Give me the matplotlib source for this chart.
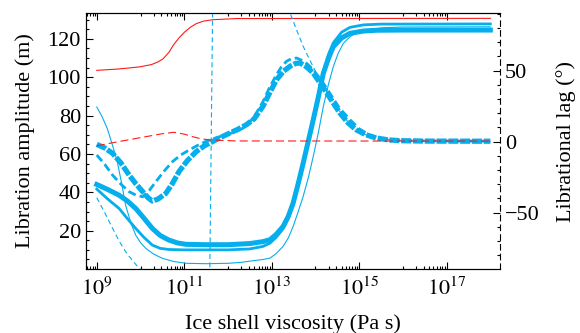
"""Libration amplitude and lag versus ice shell viscosity (twin y axes).

    python plot.py  -> out.png
"""
import matplotlib
matplotlib.use("Agg")
import matplotlib.pyplot as plt
import numpy as np
from matplotlib.ticker import FixedLocator, MultipleLocator, NullFormatter

# ---- data (x given as log10 of viscosity in Pa s) ----
# solid curves: libration amplitude (m), left axis
amp_thick_x = [9.0, 9.25, 9.51, 9.7, 9.89, 10.08, 10.27, 10.45, 10.65, 10.85, 11.04, 11.5,
               12.0, 12.5, 12.8, 12.96, 13.1, 13.26, 13.38, 13.49, 13.6, 13.72, 13.84,
               13.95, 14.07, 14.18, 14.3, 14.41, 14.6, 14.79, 15.1, 15.4, 16.0, 18.0]
amp_thick_y = [44.1, 41.5, 38.5, 35.5, 31.6, 26.5, 21.2, 17.5, 15.1, 13.6, 12.9, 12.7,
               12.7, 13.3, 14.3, 15.3, 18.0, 22.2, 27.5, 34.4, 44.0, 55.2, 67.0,
               77.8, 90.0, 102.0, 110.0, 116.0, 120.5, 122.9, 124.1, 124.5, 124.6, 124.6]

amp_mid_x = [9.0, 9.25, 9.51, 9.7, 9.89, 10.08, 10.27, 10.45, 10.65, 11.0, 12.0, 12.5,
             12.8, 12.96, 13.1, 13.26, 13.38, 13.49, 13.6, 13.72, 13.84, 13.95, 14.07,
             14.18, 14.3, 14.41, 14.6, 14.79, 15.1, 15.5, 18.0]
amp_mid_y = [41.7, 36.5, 31.6, 26.3, 21.2, 16.5, 12.5, 10.8, 10.2, 10.0, 10.0, 10.5,
             11.8, 13.5, 16.5, 21.0, 26.5, 33.5, 43.5, 55.0, 67.5, 79.0, 91.5,
             103.0, 112.0, 118.0, 123.5, 126.0, 127.3, 127.7, 127.8]

amp_thin_x = [9.0, 9.12, 9.24, 9.36, 9.47, 9.57, 9.66, 9.78, 9.89, 10.0, 10.12, 10.3,
              10.5, 10.75, 11.04, 11.5, 12.0, 12.3, 12.56, 12.8, 12.96, 13.1, 13.26,
              13.38, 13.49, 13.6, 13.72, 13.84, 13.95, 14.07, 14.18, 14.3, 14.41,
              14.52, 14.64, 14.8, 14.94, 15.2, 15.54, 16.0, 18.0]
amp_thin_y = [84.5, 79.5, 73.3, 64.5, 55.9, 44.5, 33.3, 24.0, 17.7, 13.8, 10.8, 7.8,
              5.6, 4.0, 3.0, 2.8, 3.0, 3.5, 4.3, 5.0, 5.7, 8.0, 11.8,
              16.2, 22.2, 29.5, 37.9, 47.8, 58.7, 71.5, 84.7, 96.5, 105.6,
              112.5, 117.7, 121.3, 123.2, 124.8, 125.8, 126.2, 126.3]

amp_red_x = [9.0, 9.5, 9.98, 10.25, 10.4, 10.52, 10.65, 10.75, 10.88, 11.01, 11.15,
             11.28, 11.45, 11.66, 12.2, 18.0]
amp_red_y = [103.6, 104.3, 105.4, 106.6, 108.0, 109.7, 113.0, 116.7, 120.5, 123.6, 126.2,
             128.0, 129.3, 130.0, 130.6, 130.7]

# dashed curves: librational lag (deg), right axis
lag_thick_x = [9.0, 9.18, 9.36, 9.55, 9.74, 9.9, 10.05, 10.17, 10.27, 10.4, 10.58, 10.73,
               10.88, 11.07, 11.27, 11.46, 11.65, 11.84, 12.03, 12.22, 12.41, 12.6, 12.8,
               12.95, 13.11, 13.27, 13.42, 13.55, 13.65, 13.8, 13.95, 14.1, 14.26, 14.41,
               14.56, 14.75, 14.93, 15.15, 15.39, 15.65, 15.93, 16.5, 18.0]
lag_thick_y = [-2.0, -4.5, -8.3, -15.0, -23.6, -30.0, -35.3, -39.5, -41.9, -40.5, -36.5, -29.5,
               -21.2, -13.5, -7.2, -3.0, 0.0, 3.0, 5.8, 8.5, 11.6, 16.0, 24.8,
               34.0, 43.5, 49.5, 53.0, 55.0, 55.3, 52.5, 48.2, 41.5, 34.2, 27.0,
               20.0, 13.0, 8.3, 4.8, 2.5, 1.2, 0.6, 0.3, 0.2]

lag_mid_x = [9.0, 9.18, 9.36, 9.55, 9.74, 9.9, 10.05, 10.2, 10.35, 10.55, 10.73, 10.92,
             11.11, 11.3, 11.49, 11.72, 11.95, 12.2, 12.41, 12.6, 12.8, 12.95, 13.11,
             13.22, 13.34, 13.45, 13.57, 13.7, 13.82, 13.95, 14.15, 14.33, 14.55, 14.79,
             15.0, 15.24, 15.5, 16.0, 18.0]
lag_mid_y = [-9.5, -16.0, -23.6, -30.0, -35.3, -37.8, -38.9, -34.5, -28.3, -20.5, -14.2, -9.5,
             -6.0, -2.8, 0.0, 2.6, 4.6, 7.3, 10.4, 17.5, 28.0, 38.0, 47.0,
             52.5, 56.5, 58.3, 58.8, 57.0, 54.5, 50.6, 42.5, 34.0, 23.5, 15.4,
             9.0, 4.5, 2.0, 0.6, 0.2]

# thin case wraps through +/-180 deg, so most of it lies off the axis
lag_thin_x = [9.0, 9.18, 9.36, 9.51, 9.66, 9.82, 9.97, 10.3, 11.0, 11.56, 11.65, 12.5,
              13.3, 13.42, 13.57, 13.72, 13.87, 14.02, 14.18, 14.33, 14.48, 14.64, 14.8,
              14.94, 15.2, 15.5, 16.0, 18.0]
lag_thin_y = [-39.5, -50.0, -61.0, -70.0, -77.6, -84.0, -89.3, -100.0, -125.0, -160.0, 95.0, 130.0,
              100.0, 90.5, 78.5, 67.0, 57.5, 48.2, 39.5, 31.8, 24.5, 17.7, 12.0,
              8.0, 4.0, 1.8, 0.6, 0.2]

lag_red_x = [9.0, 9.51, 10.12, 10.5, 10.77, 11.0, 11.19, 11.4, 11.65, 12.2, 18.0]
lag_red_y = [-3.0, 0.0, 3.4, 5.5, 6.5, 5.2, 3.4, 1.8, 1.0, 0.4, 0.3]

CYAN = "#05AEEC"
RED = "#FF1A1A"

plt.rcParams["font.family"] = ["Liberation Serif", "DejaVu Serif"]
plt.rcParams["mathtext.fontset"] = "stix"
plt.rcParams["font.size"] = 16
plt.rcParams["lines.scale_dashes"] = False


def ex(v):
    return 10.0 ** np.asarray(v)


fig = plt.figure(figsize=(5.8, 3.33), dpi=100)
ax = fig.add_axes([0.148, 0.192, 0.714, 0.769])
ax2 = ax.twinx()

# amplitude (solid)
ax.plot(ex(amp_thin_x), amp_thin_y, color=CYAN, lw=0.8)
ax.plot(ex(amp_mid_x), amp_mid_y, color=CYAN, lw=2.0)
ax.plot(ex(amp_thick_x), amp_thick_y, color=CYAN, lw=3.6)
ax.plot(ex(amp_red_x), amp_red_y, color=RED, lw=0.8)

# lag (dashed)
ax2.plot(ex(lag_thin_x), lag_thin_y, color=CYAN, lw=0.8, ls=(0, (3.6, 2.4)))
ax2.plot(ex(lag_mid_x), lag_mid_y, color=CYAN, lw=2.0, ls=(0, (5.8, 2.9)))
ax2.plot(ex(lag_thick_x), lag_thick_y, color=CYAN, lw=3.8, ls=(0, (7.2, 1.3)))
ax2.plot(ex(lag_red_x), lag_red_y, color=RED, lw=0.8, ls=(0, (5.8, 2.9)))

ax.set_xscale("log")
ax.set_xlim(10 ** 8.75, 10 ** 18.22)
ax.set_ylim(0, 133.5)
ax2.set_ylim(-89.8, 90.5)

# x ticks: labelled odd decades, minor ticks only in the decade below each
major = [1e9, 1e11, 1e13, 1e15, 1e17]
minor = [k * m / 10 for m in major for k in range(1, 10)]
ax.xaxis.set_major_locator(FixedLocator(major))
ax.xaxis.set_minor_locator(FixedLocator(minor))
ax.xaxis.set_minor_formatter(NullFormatter())
ax.set_xticklabels([r"$10^{9}$", r"$10^{11}$", r"$10^{13}$", r"$10^{15}$", r"$10^{17}$"])

ax.set_yticks([20, 40, 60, 80, 100, 120])
ax.yaxis.set_minor_locator(MultipleLocator(5))
ax2.set_yticks([-50, 0, 50])
ax2.yaxis.set_minor_locator(MultipleLocator(10))

ax.tick_params(which="both", direction="in", top=True, right=False, labelsize=16, width=0.8)
ax.tick_params(which="major", length=5)
ax.tick_params(which="minor", length=2.5)
ax.tick_params(axis="x", pad=6)
ax2.tick_params(which="both", direction="in", labelsize=16, width=0.8)
ax2.tick_params(which="major", length=5)
ax2.tick_params(which="minor", length=2.5)

for a in (ax, ax2):
    for s in a.spines.values():
        s.set_linewidth(0.8)
ax2.spines["right"].set_linestyle((0, (4, 3)))
ax.spines["right"].set_visible(False)

ax.set_xlabel("Ice shell viscosity (Pa s)", labelpad=10)
ax.set_ylabel("Libration amplitude (m)", labelpad=9)
ax2.set_ylabel("Librational lag (°)", labelpad=12)

fig.savefig("out.png", dpi=100)
